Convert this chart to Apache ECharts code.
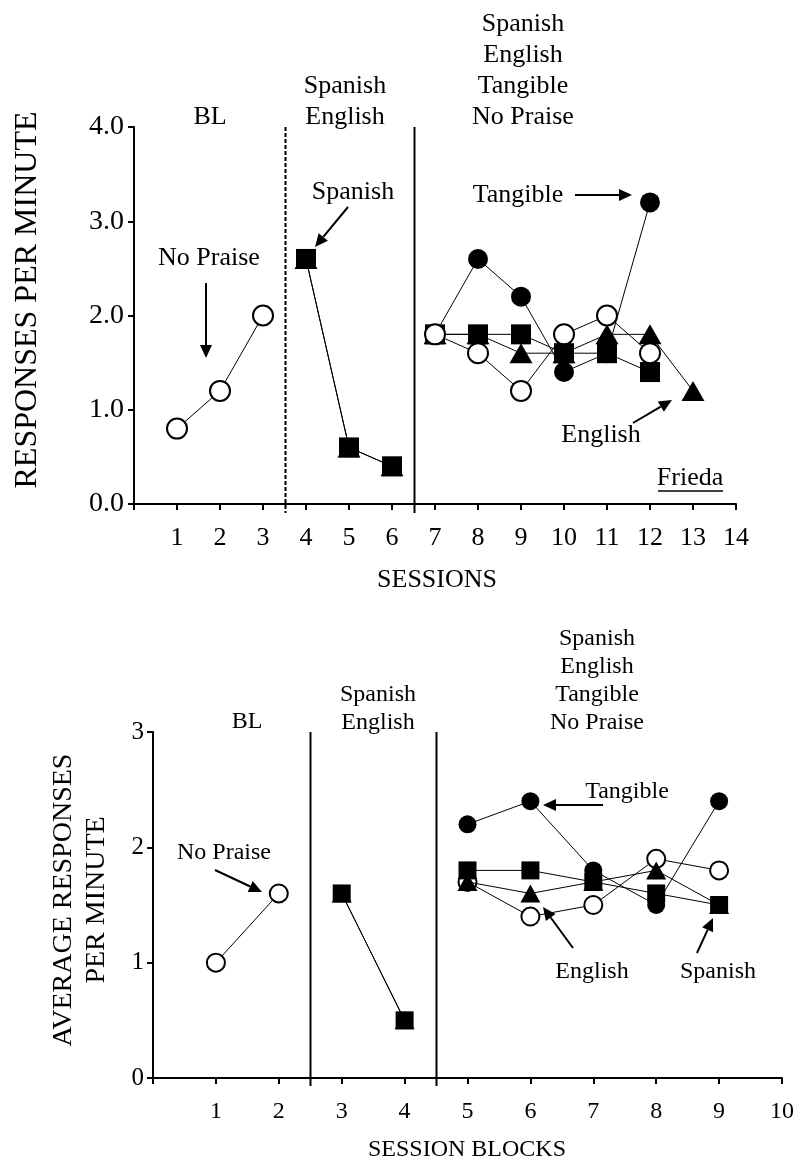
<!DOCTYPE html>
<html><head><meta charset="utf-8">
<script src="https://cdn.jsdelivr.net/npm/echarts@6/dist/echarts.min.js"></script>
<style>html,body{margin:0;padding:0;background:#fff}#c{width:804px;height:1163px}</style>
</head><body><div id="c"></div>
<script>
// ---------- Top panel (sessions) ----------
const topSessions = [1,2,3,4,5,6,7,8,9,10,11,12,13];
const topNoPraise = [0.8,1.2,2.0,null,null,null,1.8,1.6,1.2,1.8,2.0,1.6,null];
const topSpanish  = [null,null,null,2.6,0.6,0.4,1.8,1.8,1.8,1.6,1.6,1.4,null];
const topEnglish  = [null,null,null,2.6,0.6,0.4,1.8,1.8,1.6,1.6,1.8,1.8,1.2];
const topTangible = [null,null,null,null,null,null,1.8,2.6,2.2,1.4,1.6,3.2,null];
const topPhaseLines = [3.5, 6.5];
const topYTicks = ['0.0','1.0','2.0','3.0','4.0'];

// ---------- Bottom panel (session blocks) ----------
const botBlocks   = [1,2,3,4,5,6,7,8,9];
const botNoPraise = [1.0,1.6,null,null,1.7,1.4,1.5,1.9,1.8];
const botSpanish  = [null,null,1.6,0.5,1.8,1.8,1.7,1.6,1.5];
const botEnglish  = [null,null,1.6,0.5,1.7,1.6,1.7,1.8,1.5];
const botTangible = [null,null,null,null,2.2,2.4,1.8,1.5,2.4];
const botPhaseLines = [2.5, 4.5];
const botYTicks = ['0','1','2','3'];

const FONT = "'Liberation Serif','Times New Roman',serif";
const chart = echarts.init(document.getElementById('c'), null, {renderer:'canvas'});

// split a series into runs that do not cross phase lines or gaps
function runs(xs, ys, bounds){
  const out = []; let cur = [];
  xs.forEach((x,i)=>{
    const y = ys[i];
    if (y == null){ if (cur.length) out.push(cur); cur = []; return; }
    if (cur.length){
      const px = cur[cur.length-1][0];
      if (bounds.some(b => b > px && b < x)){ out.push(cur); cur = []; }
    }
    cur.push([x, y]);
  });
  if (cur.length) out.push(cur);
  return out;
}
function mk(name, xs, ys, bounds, symbol, filled, gi, size, z){
  return runs(xs, ys, bounds).map(seg => ({
    name, type:'line', xAxisIndex:gi, yAxisIndex:gi, data:seg,
    symbol, symbolSize:size, showAllSymbol:true, z:z,
    lineStyle:{color:'#000', width:1},
    itemStyle: filled ? {color:'#000', borderColor:'#000', borderWidth:0}
                      : {color:'#fff', borderColor:'#000', borderWidth:2},
    emphasis:{disabled:true}, animation:false, silent:true
  }));
}
function xAxisCfg(gi, max, offset, fs, margin){
  return {type:'value', gridIndex:gi, min:0, max:max, interval:1, offset:offset,
    axisLine:{show:true, lineStyle:{color:'#000', width:2}},
    axisTick:{show:true, length:6, inside:false, lineStyle:{color:'#000', width:2}},
    axisLabel:{show:true, color:'#000', fontFamily:FONT, fontSize:fs, margin:margin,
      formatter:v=> v===0 ? '' : String(v)},
    splitLine:{show:false}};
}
function yAxisCfg(gi, max, labels, fs, margin){
  return {type:'value', gridIndex:gi, min:0, max:max, interval:1,
    axisLine:{show:true, onZero:false, lineStyle:{color:'#000', width:2}},
    axisTick:{show:true, length:6, lineStyle:{color:'#000', width:2}},
    axisLabel:{show:true, color:'#000', fontFamily:FONT, fontSize:fs, margin:margin,
      formatter:v=> labels[Math.round(v)]},
    splitLine:{show:false}};
}

chart.setOption({
  animation:false,
  backgroundColor:'#fff',
  grid:[
    {left:134, top:127, width:602, height:377},
    {left:153, top:732, width:629, height:346}
  ],
  xAxis:[xAxisCfg(0,14,9,26,12), xAxisCfg(1,10,8,24,14)],
  yAxis:[yAxisCfg(0,4,topYTicks,28,10), yAxisCfg(1,3,botYTicks,25,9)],
  series:[].concat(
    mk('Tangible', topSessions, topTangible, topPhaseLines, 'circle', true, 0, 20, 2),
    mk('English', topSessions, topEnglish, topPhaseLines, 'triangle', true, 0, [23,20], 3),
    mk('Spanish', topSessions, topSpanish, topPhaseLines, 'rect', true, 0, 20, 4),
    mk('No Praise', topSessions, topNoPraise, topPhaseLines, 'circle', false, 0, 20, 5),
    mk('No Praise', botBlocks, botNoPraise, botPhaseLines, 'circle', false, 1, 18, 2),
    mk('Tangible', botBlocks, botTangible, botPhaseLines, 'circle', true, 1, 18, 3),
    mk('English', botBlocks, botEnglish, botPhaseLines, 'triangle', true, 1, [20,18], 4),
    mk('Spanish', botBlocks, botSpanish, botPhaseLines, 'rect', true, 1, 18, 5)
  )
});

// ---------- annotations ----------
const g = [];
function txt(s, x, y, fs, extra){
  g.push(Object.assign({type:'text', x:x, y:y, z:50, silent:true,
    style:{text:s, fill:'#000', font: fs+'px '+FONT, align:'center', verticalAlign:'middle', lineHeight: Math.round(fs*1.18)}}, extra||{}));
}
function arrow(x1,y1,x2,y2){
  const a = Math.atan2(y2-y1, x2-x1), L=13, W=6;
  const c=Math.cos(a), s=Math.sin(a);
  const bx=x2-L*c, by=y2-L*s;
  g.push({type:'line', z:50, silent:true, shape:{x1:x1,y1:y1,x2:bx,y2:by}, style:{stroke:'#000', lineWidth:2}});
  g.push({type:'polygon', z:50, silent:true, shape:{points:[[x2,y2],[bx-W*s,by+W*c],[bx+W*s,by-W*c]]}, style:{fill:'#000'}});
}
function phaseLines(gi, xs, ymax, offset, dash){
  xs.forEach(v=>{
    const p1 = chart.convertToPixel({gridIndex:gi}, [v, ymax]);
    const p0 = chart.convertToPixel({gridIndex:gi}, [v, 0]);
    g.push({type:'line', z:40, silent:true,
      shape:{x1:Math.round(p1[0])+0.5, y1:p1[1], x2:Math.round(p1[0])+0.5, y2:p0[1]+offset},
      style:{stroke:'#000', lineWidth:2, lineDash: (dash && v===xs[0]) ? [4,2] : null}});
  });
}
phaseLines(0, topPhaseLines, 4, 9, true);
phaseLines(1, botPhaseLines, 3, 8, false);

// top panel text
txt('BL', 210, 117, 26);
txt('Spanish\nEnglish', 345, 102, 26);
txt('Spanish\nEnglish\nTangible\nNo Praise', 523, 71, 26);
txt('No Praise', 209, 258, 26);
arrow(206, 283, 206, 358);
txt('Spanish', 353, 192, 26);
arrow(348, 207, 315, 247);
txt('Tangible', 518, 195, 26);
arrow(575, 195, 632, 195);
txt('English', 601, 435, 26);
arrow(633, 423, 672, 400);
txt('Frieda', 690, 478, 26);
g.push({type:'line', z:50, silent:true, shape:{x1:658,y1:491,x2:723,y2:491}, style:{stroke:'#000', lineWidth:1.5}});
txt('SESSIONS', 437, 580, 26);
txt('RESPONSES PER MINUTE', 28, 300, 32, {rotation:Math.PI/2});

// bottom panel text
txt('BL', 247, 722, 24);
txt('Spanish\nEnglish', 378, 709, 24);
txt('Spanish\nEnglish\nTangible\nNo Praise', 597, 681, 24);
txt('No Praise', 224, 853, 24);
arrow(215, 870, 262, 892);
txt('Tangible', 627, 792, 24);
arrow(603, 805, 543, 805);
txt('English', 592, 972, 24);
arrow(573, 948, 543, 907);
txt('Spanish', 718, 972, 24);
arrow(697, 953, 713, 918);
txt('SESSION BLOCKS', 467, 1150, 24);
txt('AVERAGE RESPONSES\nPER MINUTE', 80, 900, 28, {rotation:Math.PI/2});

chart.setOption({graphic: g});
</script>
</body></html>
